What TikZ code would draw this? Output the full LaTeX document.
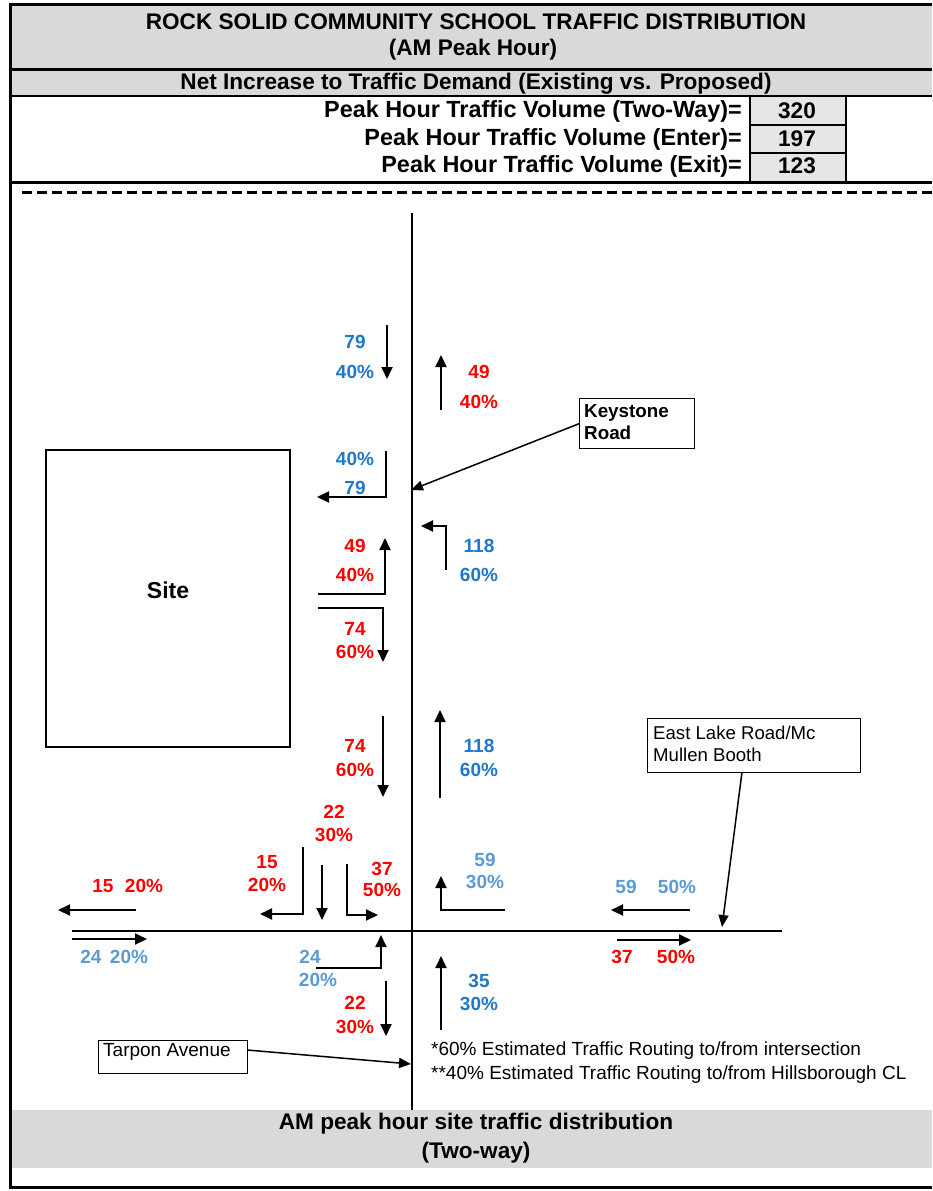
\documentclass[tikz,border=0pt]{standalone}
\usepackage{fontspec}
\setmainfont{Liberation Sans}
\usetikzlibrary{arrows.meta}
\definecolor{dblue}{HTML}{1F78C8}
\definecolor{lblue}{HTML}{5B9BD5}
\definecolor{tred}{HTML}{FF0000}
\definecolor{band}{HTML}{D9D9D9}
\definecolor{cellg}{HTML}{E6E6E6}
\tikzset{
  hdr/.style={font=\bfseries\fontsize{22.6}{24}\selectfont, inner sep=0pt},
  rowt/.style={font=\bfseries\fontsize{23.4}{24}\selectfont, inner sep=0pt, anchor=east},
  num/.style={font=\bfseries\fontsize{19}{20}\selectfont, inner sep=0pt},
  note/.style={font=\fontsize{19}{20}\selectfont, inner sep=0pt, anchor=west},
  lbox/.style={draw, line width=1.4pt, anchor=north west, inner sep=0pt},
  arr/.style={line width=1.9pt, -{Triangle[length=12pt,width=11pt]}},
  tline/.style={line width=1.4pt},
  road/.style={line width=2.8pt},
  frame/.style={line width=3pt},
}
\begin{document}
\begin{tikzpicture}[x=1pt,y=-1pt]
\useasboundingbox (0,0) rectangle (932,1191);
\fill[white] (0,0) rectangle (932,1191);
% header bands
\fill[band] (11,6) rectangle (932,68);
\fill[band] (11,71) rectangle (932,95);
\fill[cellg] (750,97) rectangle (846,181);
\fill[band] (11,1110) rectangle (932,1168);
\draw[frame] (10,4) -- (932,4);
\draw[frame] (10,69.5) -- (932,69.5);
\draw[line width=2pt] (10,96) -- (932,96);
\draw[frame] (10,182) -- (932,182);
\draw[frame] (10,1187) -- (932,1187);
\draw[frame] (10,2.5) -- (10,1188.5);
\draw[line width=1.4pt] (750,96) rectangle (846,182);
\draw[line width=1.4pt] (750,125) -- (846,125) (750,153) -- (846,153);
\draw[line width=3pt, dash pattern=on 10pt off 5pt] (22,192) -- (932,192);
\node[hdr] (t1) at (476,22) {ROCK SOLID COMMUNITY SCHOOL TRAFFIC DISTRIBUTION};
\node[hdr] (t2) at (473,50) {(AM Peak Hour)};
\node[hdr] (t3) at (476,84) {Net Increase to Traffic Demand (Existing vs. Proposed)};
\node[rowt] (r1) at (742,111) {Peak Hour Traffic Volume (Two-Way)=};
\node[rowt] (r2) at (742,139) {Peak Hour Traffic Volume (Enter)=};
\node[rowt] (r3) at (742,166) {Peak Hour Traffic Volume (Exit)=};
\node[hdr] (v1) at (797,111) {320};
\node[hdr] (v2) at (797,139) {197};
\node[hdr] (v3) at (797,166) {123};
\node[hdr] (b1) at (476,1124) {AM peak hour site traffic distribution};
\node[hdr] (b2) at (476,1153) {(Two-way)};
% roads
\draw[road] (412,213) -- (412,1110);
\draw[road] (72,931) -- (782,931);
% site
\node[draw, line width=1.6pt, minimum width=244pt, minimum height=297pt, anchor=north west] (site) at (45,449) {};
\node[font=\bfseries\fontsize{23}{24}\selectfont, inner sep=0pt] (sitet) at (168,590) {Site};
% label boxes
\node[lbox, minimum width=115pt, minimum height=50pt] (key) at (579,398) {};
\node[font=\bfseries\fontsize{18.8}{22}\selectfont, anchor=west, align=left, inner sep=0pt] (keyt) at (584,422) {Keystone\\Road};
\draw[line width=1.5pt, -{Triangle[length=12pt,width=10pt]}] (key.west) -- (411,490);
\node[lbox, minimum width=213pt, minimum height=54pt] (east) at (647,718) {};
\node[font=\fontsize{18.6}{22}\selectfont, anchor=west, align=left, inner sep=0pt] (eastt) at (653,744) {East Lake Road/Mc\\Mullen Booth};
\coordinate (eastend) at (722,927);
\draw[line width=1.5pt, -{Triangle[length=12pt,width=10pt]}] (742,772) -- (eastend);
\node[lbox, minimum width=149pt, minimum height=33pt] (tarp) at (98,1040) {};
\node[font=\fontsize{19}{20}\selectfont, anchor=west, inner sep=0pt] (tarpt) at (103,1052) {Tarpon Avenue};
\coordinate (tarpend) at (411,1064);
\draw[line width=1.5pt, -{Triangle[length=12pt,width=10pt]}] (247,1050) -- (tarpend);
% notes
\node[note] (n1) at (431,1051) {*60\% Estimated Traffic Routing to/from intersection};
\node[note] (n2) at (431,1075) {**40\% Estimated Traffic Routing to/from Hillsborough CL};
% north leg
\node[num, text=dblue] (a1) at (355,342) {79};
\node[num, text=dblue] (a2) at (355,372) {40\%};
\draw[arr] (387,325) -- (387,379);
\draw[arr] (441,410) -- (441,355);
\node[num, text=tred] (a3) at (479,372) {49};
\node[num, text=tred] (a4) at (479,402) {40\%};
\node[num, text=dblue] (a5) at (355,459) {40\%};
\node[num, text=dblue] (a6) at (355,488) {79};
\draw[tline] (386,451) -- (386,497);
\draw[arr] (387,497) -- (317,497);
\draw[tline] (446,570) -- (446,526);
\draw[arr] (447,526) -- (421,526);
\node[num, text=dblue] (a7) at (479,546) {118};
\node[num, text=dblue] (a8) at (479,575) {60\%};
\node[num, text=tred] (a9) at (355,546) {49};
\node[num, text=tred] (a10) at (355,575) {40\%};
\draw[tline] (318,594) -- (385,594);
\draw[arr] (385,595) -- (385,538);
\draw[tline] (318,608) -- (383,608);
\draw[arr] (383,607) -- (383,662);
\node[num, text=tred] (a11) at (355,629) {74};
\node[num, text=tred] (a12) at (355,652) {60\%};
\draw[arr] (383,716) -- (383,797);
\node[num, text=tred] (a13) at (355,746) {74};
\node[num, text=tred] (a14) at (355,770) {60\%};
\draw[arr] (440,798) -- (440,710);
\node[num, text=dblue] (a15) at (479,746) {118};
\node[num, text=dblue] (a16) at (479,770) {60\%};
\node[num, text=tred] (a17) at (334,812) {22};
\node[num, text=tred] (a18) at (334,835) {30\%};
% southbound approach turns
\node[num, text=tred] (a19) at (267,862) {15};
\node[num, text=tred] (a20) at (267,885) {20\%};
\draw[tline] (303,847) -- (303,914);
\draw[arr] (304,914) -- (260,914);
\draw[arr] (322,865) -- (322,920);
\draw[tline] (347,864) -- (347,915);
\draw[arr] (346,915) -- (378,915);
\node[num, text=tred] (a21) at (382,869) {37};
\node[num, text=tred] (a22) at (382,890) {50\%};
% northbound right into road
\node[num, text=lblue] (a23) at (485,860) {59};
\node[num, text=lblue] (a24) at (485,882) {30\%};
\draw[tline] (505,910) -- (441,910);
\draw[arr] (441,911) -- (441,876);
% west leg
\node[num, text=tred] (a25) at (103,886) {15};
\node[num, text=tred] (a26) at (144,886) {20\%};
\draw[arr] (136,910) -- (58,910);
\draw[arr] (72,939) -- (147,939);
\node[num, text=lblue] (a27) at (91,957) {24};
\node[num, text=lblue] (a28) at (129,957) {20\%};
% south leg
\node[num, text=lblue] (a29) at (310,957) {24};
\node[num, text=lblue] (a30) at (318,980) {20\%};
\draw[tline] (316,968) -- (381,968);
\draw[arr] (381,969) -- (381,935);
\draw[arr] (386,981) -- (386,1036);
\node[num, text=tred] (a31) at (355,1003) {22};
\node[num, text=tred] (a32) at (355,1027) {30\%};
\draw[arr] (441,1030) -- (441,956);
\node[num, text=dblue] (a33) at (479,981) {35};
\node[num, text=dblue] (a34) at (479,1004) {30\%};
% east leg
\node[num, text=lblue] (a35) at (626,887) {59};
\node[num, text=lblue] (a36) at (677,887) {50\%};
\draw[arr] (690,910) -- (611,910);
\draw[arr] (617,940) -- (691,940);
\node[num, text=tred] (a37) at (622,957) {37};
\node[num, text=tred] (a38) at (676,957) {50\%};
\end{tikzpicture}
\end{document}
